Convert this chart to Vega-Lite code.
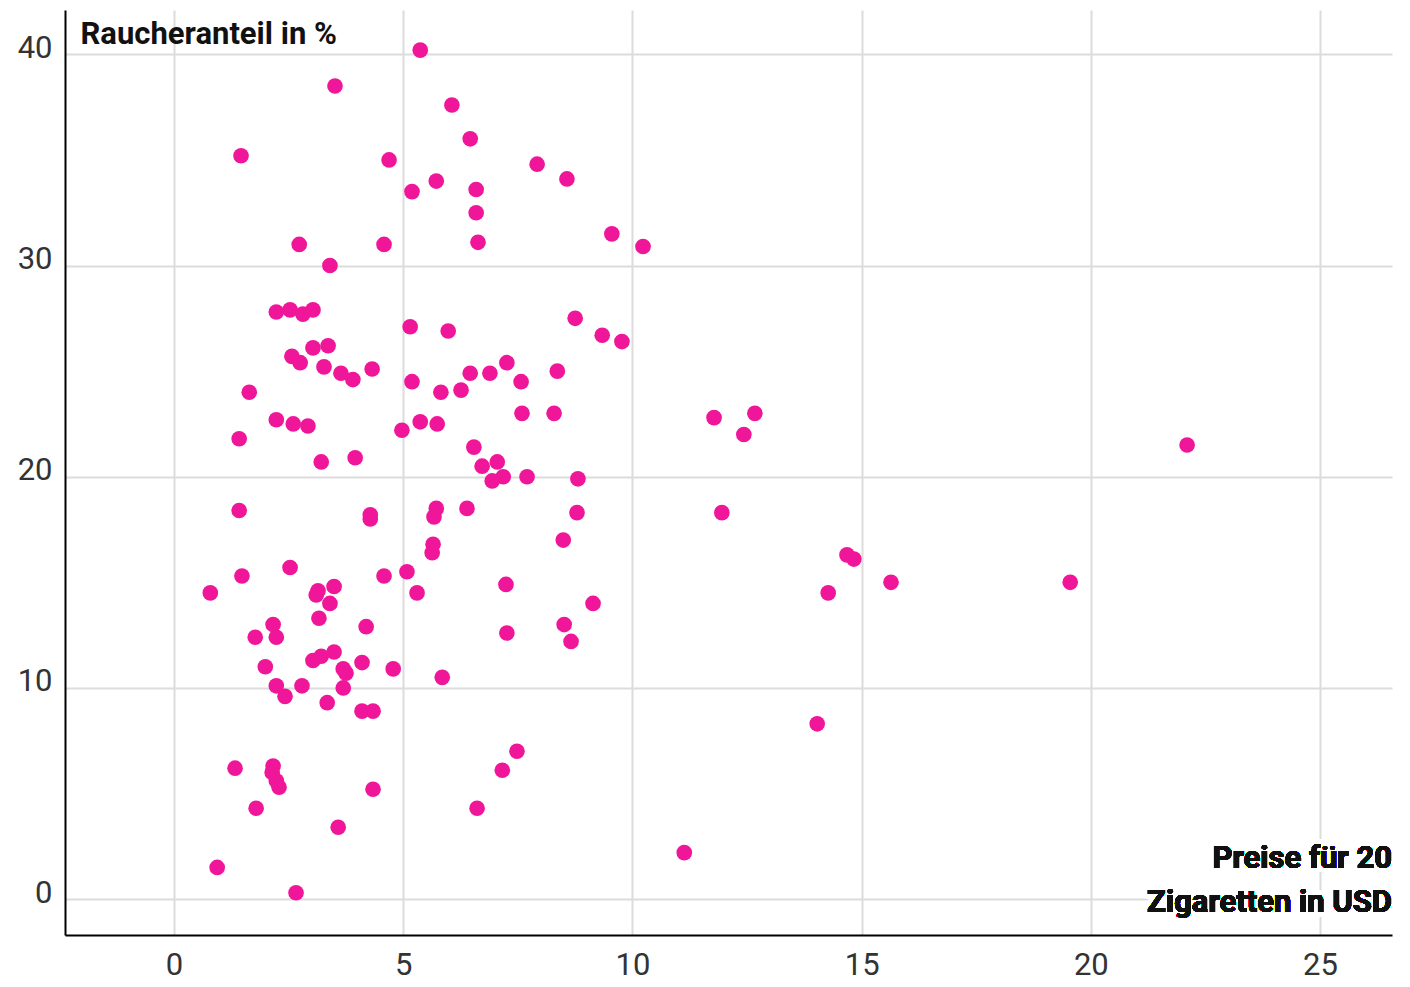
{
  "$schema": "https://vega.github.io/schema/vega-lite/v6.json",
  "autosize": {"type": "none"},
  "width": 1327,
  "height": 925,
  "padding": {"left": 65, "top": 10, "right": 18, "bottom": 52},
  "background": "white",
  "config": {"view": {"stroke": null}, "font": "Roboto"},
  "data": {"values": [
    {"price": 5.37, "smokers": 40.2}, {"price": 3.51, "smokers": 38.5}, {"price": 6.06, "smokers": 37.6},
    {"price": 6.46, "smokers": 36.0}, {"price": 1.46, "smokers": 35.2}, {"price": 4.69, "smokers": 35.0},
    {"price": 7.92, "smokers": 34.8}, {"price": 8.57, "smokers": 34.1}, {"price": 5.72, "smokers": 34.0},
    {"price": 5.19, "smokers": 33.5}, {"price": 6.59, "smokers": 33.6}, {"price": 6.59, "smokers": 32.5},
    {"price": 9.55, "smokers": 31.5}, {"price": 6.63, "smokers": 31.1}, {"price": 10.23, "smokers": 30.9},
    {"price": 2.73, "smokers": 31.0}, {"price": 4.58, "smokers": 31.0}, {"price": 3.40, "smokers": 30.0},
    {"price": 2.23, "smokers": 27.8}, {"price": 2.53, "smokers": 27.9}, {"price": 2.81, "smokers": 27.7},
    {"price": 3.03, "smokers": 27.9}, {"price": 8.75, "smokers": 27.5}, {"price": 5.15, "smokers": 27.1},
    {"price": 5.98, "smokers": 26.9}, {"price": 9.34, "smokers": 26.7}, {"price": 9.77, "smokers": 26.4},
    {"price": 3.03, "smokers": 26.1}, {"price": 3.36, "smokers": 26.2}, {"price": 2.57, "smokers": 25.7},
    {"price": 2.75, "smokers": 25.4}, {"price": 3.27, "smokers": 25.2}, {"price": 3.64, "smokers": 24.9},
    {"price": 3.90, "smokers": 24.6}, {"price": 4.32, "smokers": 25.1}, {"price": 7.26, "smokers": 25.4},
    {"price": 6.89, "smokers": 24.9}, {"price": 6.46, "smokers": 24.9}, {"price": 8.36, "smokers": 25.0},
    {"price": 5.19, "smokers": 24.5}, {"price": 7.57, "smokers": 24.5}, {"price": 1.64, "smokers": 24.0},
    {"price": 5.82, "smokers": 24.0}, {"price": 6.26, "smokers": 24.1}, {"price": 2.23, "smokers": 22.7},
    {"price": 2.60, "smokers": 22.5}, {"price": 2.92, "smokers": 22.4}, {"price": 5.37, "smokers": 22.6},
    {"price": 5.74, "smokers": 22.5}, {"price": 4.97, "smokers": 22.2}, {"price": 7.59, "smokers": 23.0},
    {"price": 8.29, "smokers": 23.0}, {"price": 1.42, "smokers": 21.8}, {"price": 11.78, "smokers": 22.8},
    {"price": 12.67, "smokers": 23.0}, {"price": 12.43, "smokers": 22.0}, {"price": 22.10, "smokers": 21.5},
    {"price": 6.54, "smokers": 21.4}, {"price": 3.21, "smokers": 20.7}, {"price": 3.95, "smokers": 20.9},
    {"price": 6.72, "smokers": 20.5}, {"price": 7.05, "smokers": 20.7}, {"price": 6.94, "smokers": 19.8},
    {"price": 7.18, "smokers": 20.0}, {"price": 7.70, "smokers": 20.0}, {"price": 8.81, "smokers": 19.9},
    {"price": 1.42, "smokers": 18.4}, {"price": 4.28, "smokers": 18.2}, {"price": 4.28, "smokers": 18.0},
    {"price": 5.72, "smokers": 18.5}, {"price": 5.67, "smokers": 18.1}, {"price": 6.39, "smokers": 18.5},
    {"price": 8.79, "smokers": 18.3}, {"price": 11.95, "smokers": 18.3}, {"price": 8.49, "smokers": 17.0},
    {"price": 5.65, "smokers": 16.8}, {"price": 5.63, "smokers": 16.4}, {"price": 14.68, "smokers": 16.3},
    {"price": 14.83, "smokers": 16.1}, {"price": 2.53, "smokers": 15.7}, {"price": 1.48, "smokers": 15.3},
    {"price": 4.58, "smokers": 15.3}, {"price": 5.08, "smokers": 15.5}, {"price": 15.64, "smokers": 15.0},
    {"price": 19.55, "smokers": 15.0}, {"price": 7.24, "smokers": 14.9}, {"price": 3.49, "smokers": 14.8},
    {"price": 3.14, "smokers": 14.6}, {"price": 3.10, "smokers": 14.4}, {"price": 0.79, "smokers": 14.5},
    {"price": 5.30, "smokers": 14.5}, {"price": 14.27, "smokers": 14.5}, {"price": 3.40, "smokers": 14.0},
    {"price": 9.14, "smokers": 14.0}, {"price": 3.16, "smokers": 13.3}, {"price": 4.19, "smokers": 12.9},
    {"price": 2.16, "smokers": 13.0}, {"price": 8.51, "smokers": 13.0}, {"price": 1.77, "smokers": 12.4},
    {"price": 2.23, "smokers": 12.4}, {"price": 7.26, "smokers": 12.6}, {"price": 8.66, "smokers": 12.2},
    {"price": 3.49, "smokers": 11.7}, {"price": 3.21, "smokers": 11.5}, {"price": 3.03, "smokers": 11.3},
    {"price": 4.10, "smokers": 11.2}, {"price": 1.99, "smokers": 11.0}, {"price": 3.69, "smokers": 10.9},
    {"price": 3.75, "smokers": 10.7}, {"price": 4.78, "smokers": 10.9}, {"price": 5.85, "smokers": 10.5},
    {"price": 2.79, "smokers": 10.1}, {"price": 2.23, "smokers": 10.1}, {"price": 3.69, "smokers": 10.0},
    {"price": 2.42, "smokers": 9.6}, {"price": 3.34, "smokers": 9.3}, {"price": 4.10, "smokers": 8.9},
    {"price": 4.34, "smokers": 8.9}, {"price": 14.03, "smokers": 8.3}, {"price": 7.48, "smokers": 7.0},
    {"price": 1.33, "smokers": 6.2}, {"price": 2.16, "smokers": 6.3}, {"price": 2.14, "smokers": 6.0},
    {"price": 2.23, "smokers": 5.6}, {"price": 2.29, "smokers": 5.3}, {"price": 7.16, "smokers": 6.1},
    {"price": 4.34, "smokers": 5.2}, {"price": 1.79, "smokers": 4.3}, {"price": 6.61, "smokers": 4.3},
    {"price": 3.58, "smokers": 3.4}, {"price": 11.13, "smokers": 2.2}, {"price": 0.94, "smokers": 1.5},
    {"price": 2.66, "smokers": 0.3}
  ]},
  "layer": [
    {
      "mark": {"type": "circle", "size": 245, "color": "#f0169a", "opacity": 1},
      "encoding": {
        "x": {
          "field": "price", "type": "quantitative",
          "scale": {"domain": [-2.38, 26.57], "nice": false, "zero": false},
          "axis": {
            "values": [0, 5, 10, 15, 20, 25], "title": null, "grid": true,
            "gridColor": "#dcdcdc", "gridWidth": 2, "domainColor": "#000", "domainWidth": 2,
            "ticks": false, "labelFontSize": 31, "labelColor": "#333", "labelPadding": 15,
            "labelFont": "Roboto"
          }
        },
        "y": {
          "field": "smokers", "type": "quantitative",
          "scale": {"domain": [-1.7, 42.1], "nice": false, "zero": false},
          "axis": {
            "values": [0, 10, 20, 30, 40], "title": "Raucheranteil in %",
            "titleAngle": 0, "titleAlign": "left", "titleBaseline": "alphabetic",
            "titleX": 15, "titleY": 33, "titleFontSize": 31, "titleFontWeight": "bold",
            "titleColor": "#111", "titleFont": "Roboto",
            "grid": true, "gridColor": "#dcdcdc", "gridWidth": 2,
            "domainColor": "#000", "domainWidth": 2, "ticks": false,
            "labelFontSize": 31, "labelColor": "#333", "labelPadding": 13,
            "labelBaseline": "alphabetic", "labelOffset": 3, "labelFont": "Roboto"
          }
        }
      }
    },
    {
      "mark": {"type": "text", "text": ["Preise für 20", "Zigaretten in USD"], "align": "right",
               "baseline": "alphabetic", "dy": -31, "lineHeight": 44, "font": "Roboto",
               "fontSize": 31, "fontWeight": "bold", "fill": "white", "stroke": "white",
               "strokeWidth": 10, "strokeJoin": "round"},
      "encoding": {"x": {"datum": 26.57}, "y": {"datum": 0}}
    },
    {
      "mark": {"type": "text", "text": ["Preise für 20", "Zigaretten in USD"], "align": "right",
               "baseline": "alphabetic", "dy": -31, "lineHeight": 44, "font": "Roboto",
               "fontSize": 31, "fontWeight": "bold", "color": "#111"},
      "encoding": {"x": {"datum": 26.57}, "y": {"datum": 0}}
    }
  ]
}
